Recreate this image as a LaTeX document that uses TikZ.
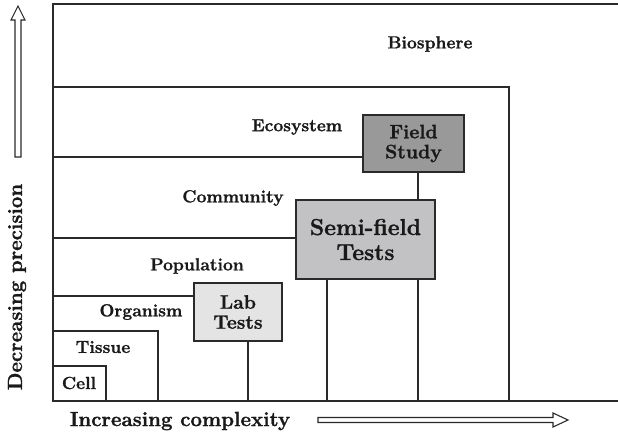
\documentclass[tikz,border=0pt]{standalone}
\usepackage{fontspec}
\setmainfont{Latin Modern Roman}[BoldFeatures={FakeBold=1.2}]
\definecolor{ln}{HTML}{2A2A2A}
\definecolor{fielddark}{HTML}{999999}
\definecolor{semimid}{HTML}{C2C2C4}
\definecolor{lablight}{HTML}{E4E4E4}
\tikzset{
  frame/.style={draw=ln, line width=1.1pt},
  lvl/.style={font=\fontsize{17.5}{20}\selectfont\bfseries, inner sep=0pt, text=black!90},
  testbox/.style={draw=ln, line width=1.3pt, inner sep=0pt, align=center, text=black!90,
     font=\fontsize{19.5}{23}\selectfont\bfseries},
  axislbl/.style={font=\fontsize{20.5}{24}\selectfont\bfseries, inner sep=0pt, text=black!90},
  hollow/.style={draw=ln, line width=1.1pt, fill=white, line join=miter},
}
\begin{document}
\begin{tikzpicture}[x=1pt,y=-1pt]
\useasboundingbox (0,0) rectangle (618,436);
% outer frame
\draw[frame] (618,4) -- (53,4) -- (53,401) -- (618,401);
% ecosystem frame
\draw[frame] (53,87) -- (509,87) -- (509,401);
% boxes
\node[testbox, fill=fielddark, minimum width=101pt, minimum height=57pt] (field) at (413.5,143.5) {Field\\[-3pt]Study};
\node[testbox, fill=semimid, minimum width=139pt, minimum height=79pt,
      font=\fontsize{23}{27}\selectfont\bfseries] (semi) at (365.5,239.5) {Semi-field\\[-2pt]Tests};
\node[testbox, fill=lablight, minimum width=88pt, minimum height=58pt] (lab) at (238,312) {Lab\\[-3pt]Tests};
% level lines to boxes
\coordinate (eco) at (53,157);
\coordinate (com) at (53,238);
\coordinate (pop) at (53,296);
\draw[frame] (eco) -- (eco -| field.west);
\draw[frame] (com) -- (com -| semi.west);
\draw[frame] (pop) -- (pop -| lab.west);
% tissue and cell boxes
\draw[frame] (53,331) -- (158,331) -- (158,401);
\draw[frame] (53,366) -- (106,366) -- (106,401);
% connectors from boxes down to the baseline
\coordinate (fx) at (418,0);
\coordinate (sx) at (327,0);
\coordinate (lx) at (248,0);
\coordinate (base) at (0,401);
\draw[frame] (fx |- field.south) -- (fx |- semi.north);
\draw[frame] (fx |- semi.south) -- (fx |- base);
\draw[frame] (sx |- semi.south) -- (sx |- base);
\draw[frame] (lx |- lab.south) -- (lx |- base);
% level labels
\node[lvl] (bio) at (430,44) {Biosphere};
\node[lvl] (ecol) at (297,127) {Ecosystem};
\node[lvl] (coml) at (233,198) {Community};
\node[lvl] (popl) at (197,266) {Population};
\node[lvl] (org) at (141,312) {Organism};
\node[lvl] (tis) at (103,347) {Tissue};
\node[lvl] (cell) at (79,383) {Cell};
% axis labels
\node[axislbl] (xlab) at (180,421) {Increasing complexity};
\node[axislbl, rotate=90] (ylab) at (17,287) {Decreasing precision};
% hollow arrows
\draw[hollow] (15,157) -- (15,20) -- (11,20) -- (18,6) -- (25,20) -- (21,20) -- (21,157) -- cycle;
\draw[hollow] (318,417.5) -- (553,417.5) -- (553,413) -- (568,420) -- (553,427) -- (553,422.5) -- (318,422.5) -- cycle;
\end{tikzpicture}
\end{document}
